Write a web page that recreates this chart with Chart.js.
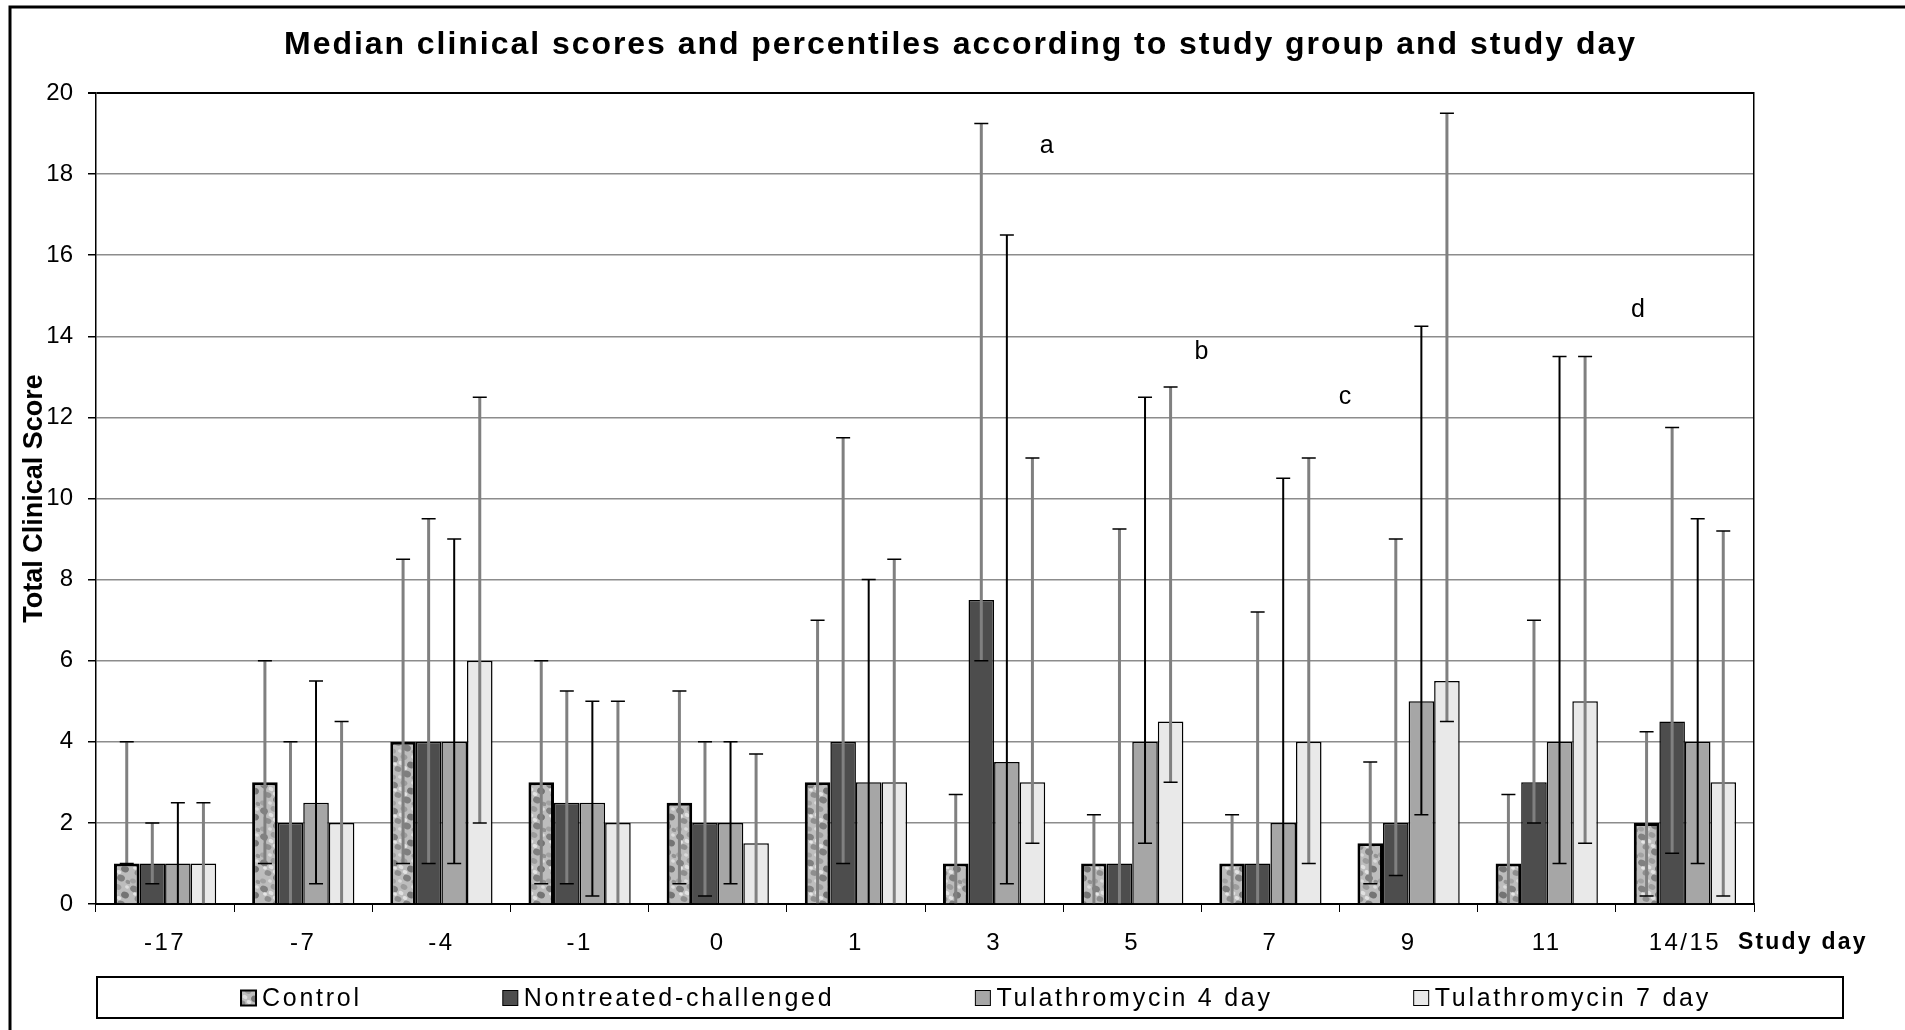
<!DOCTYPE html>
<html>
<head>
<meta charset="utf-8">
<script src="https://cdn.jsdelivr.net/npm/chart.js@4.4.1/dist/chart.umd.min.js"></script>
<style>
  html, body { margin: 0; padding: 0; background: #fff; }
  canvas { display: block; }
</style>
</head>
<body>
<canvas id="scores" width="1905" height="1030"></canvas>
<script>
(() => {
	'use strict'

	// Study days (x categories)
	const days = ['-17', '-7', '-4', '-1', '0', '1', '3', '5', '7', '9', '11', '14/15'];
	const seriesNames = ['Control', 'Nontreated-challenged', 'Tulathromycin 4 day', 'Tulathromycin 7 day'];

	// Medians and percentile whiskers
	const controlMedian = [1, 3, 4, 3, 2.5, 3, 1, 1, 1, 1.5, 1, 2];
	const controlLow    = [1, 1, 1, 0.5, 0.5, 0, 0, 0, 0, 0.5, 0, 0.2];
	const controlHigh   = [4, 6, 8.5, 6, 5.25, 7, 2.7, 2.2, 2.2, 3.5, 2.7, 4.25];

	const nontreatedMedian = [1, 2, 4, 2.5, 2, 4, 7.5, 1, 1, 2, 3, 4.5];
	const nontreatedLow    = [0.5, 0, 1, 0.5, 0.2, 1, 6, 0, 0, 0.7, 2, 1.25];
	const nontreatedHigh   = [2, 4, 9.5, 5.25, 4, 11.5, 19.25, 9.25, 7.2, 9, 7, 11.75];

	const tula4Median = [1, 2.5, 4, 2.5, 2, 3, 3.5, 4, 2, 5, 4, 4];
	const tula4Low    = [0, 0.5, 1, 0.2, 0.5, 0, 0.5, 1.5, 0, 2.2, 1, 1];
	const tula4High   = [2.5, 5.5, 9, 5, 4, 8, 16.5, 12.5, 10.5, 14.25, 13.5, 9.5];

	const tula7Median = [1, 2, 6, 2, 1.5, 3, 3, 4.5, 4, 5.5, 5, 3];
	const tula7Low    = [0, 0, 2, 0, 0, 0, 1.5, 3, 1, 4.5, 1.5, 0.2];
	const tula7High   = [2.5, 4.5, 12.5, 5, 3.7, 8.5, 11, 12.75, 11, 19.5, 13.5, 9.2];

	// Significance letters (position in category units / score units)
	const noteLabels = ['a', 'b', 'c', 'd'];
	const noteDay    = [6.38, 7.5, 8.54, 10.66];
	const noteScore  = [18.7, 13.6, 12.5, 14.65];

	const errLow  = [controlLow, nontreatedLow, tula4Low, tula7Low];
	const errHigh = [controlHigh, nontreatedHigh, tula4High, tula7High];
	const whiskerColors = ['#808080', '#808080', '#000000', '#808080'];
	const whiskerWidths = [3, 3, 2, 3];

	const titleText = 'Median clinical scores and percentiles according to study group and study day';

	const canvas = document.getElementById('scores');
	const ctx = canvas.getContext('2d');
	const FONT = '"Liberation Sans", Arial, sans-serif';

	// Mottled fill used for the Control bars
	function makeMottle() {
		const c = document.createElement('canvas');
		c.width = 26;
		c.height = 26;
		const g = c.getContext('2d');
		g.fillStyle = '#bdbdbd';
		g.fillRect(0, 0, 26, 26);
		const spots = [
			[4, 5, 4, '#808080'], [14, 3, 3.5, '#9c9c9c'], [21, 11, 4, '#747474'],
			[8, 15, 3.5, '#8e8e8e'], [17, 20, 4, '#7f7f7f'], [3, 23, 3, '#a2a2a2'],
			[11, 9, 2.5, '#e0e0e0'], [23, 3, 2, '#dcdcdc'], [5, 10, 2, '#e6e6e6'],
			[15, 14, 2.4, '#e2e2e2'], [24, 24, 2.5, '#939393'], [10, 23, 2, '#dadada']
		];
		spots.forEach(([x, y, r, col]) => {
			g.fillStyle = col;
			g.beginPath();
			g.ellipse(x, y, r, r * 0.8, 0.4, 0, Math.PI * 2);
			g.fill();
		});
		return ctx.createPattern(c, 'repeat');
	}
	const mottle = makeMottle();

	// letter spacing that makes text span a given width
	function fitSpacing(c, text, font, width) {
		c.save();
		c.font = font;
		c.letterSpacing = '0px';
		const w = c.measureText(text).width;
		c.restore();
		return Math.max(0, (width - w) / (text.length - 1)) + 'px';
	}

	// wraps a draw method so its text gets the given letter spacing
	function spaced(obj, method, spacing) {
		const orig = obj[method].bind(obj);
		obj[method] = function (...args) {
			const c = obj.ctx || obj.chart.ctx;
			const prev = c.letterSpacing;
			c.letterSpacing = spacing;
			const r = orig(...args);
			c.letterSpacing = prev;
			return r;
		};
	}

	// Whiskers drawn through the value scale
	const errorBars = {
		id: 'errorBars',
		afterDatasetsDraw(chart) {
			const c = chart.ctx;
			const y = chart.scales.y;
			chart.data.datasets.forEach((ds, d) => {
				chart.getDatasetMeta(d).data.forEach((bar, i) => {
					const top = y.getPixelForValue(errHigh[d][i]);
					const bot = y.getPixelForValue(errLow[d][i]);
					c.save();
					c.strokeStyle = whiskerColors[d];
					c.lineWidth = whiskerWidths[d];
					c.beginPath();
					c.moveTo(bar.x, top);
					c.lineTo(bar.x, bot);
					c.stroke();
					c.strokeStyle = '#000';
					c.lineWidth = 1.5;
					c.beginPath();
					c.moveTo(bar.x - 7, top);
					c.lineTo(bar.x + 7, top);
					c.moveTo(bar.x - 7, bot);
					c.lineTo(bar.x + 7, bot);
					c.stroke();
					c.restore();
				});
			});
		}
	};

	// Frame, letters, "Study day" and the boxed legend
	const decorations = {
		id: 'decorations',
		afterInit(chart) {
			spaced(chart.titleBlock, 'draw', fitSpacing(chart.ctx, titleText, 'bold 32px ' + FONT, 1351));
		},
		beforeDraw(chart) {
			const x = chart.scales.x;
			if (!x._spaced) {
				spaced(x, 'drawLabels', '2.5px');
				x._spaced = true;
			}
		},
		afterDraw(chart) {
			const c = chart.ctx;
			const {x, y} = chart.scales;
			c.save();

			// figure frame
			c.strokeStyle = '#000';
			c.lineWidth = 3;
			c.beginPath();
			c.moveTo(10, 1030);
			c.lineTo(10, 7);
			c.lineTo(1905, 7);
			c.stroke();

			// significance letters
			const step = x.getPixelForValue(1) - x.getPixelForValue(0);
			c.fillStyle = '#000';
			c.font = '25px ' + FONT;
			c.textAlign = 'center';
			c.textBaseline = 'middle';
			noteLabels.forEach((t, i) => {
				c.fillText(t, x.getPixelForValue(0) + noteDay[i] * step, y.getPixelForValue(noteScore[i]));
			});

			// axis caption next to the last day
			c.font = 'bold 23px ' + FONT;
			c.letterSpacing = '2.2px';
			c.textAlign = 'left';
			c.fillText('Study day', x.getPixelForValue(days.length - 1) + 53, 943);

			// legend box
			c.font = '25px ' + FONT;
			c.letterSpacing = '0px';
			const raw = c.measureText(seriesNames.join('')).width;
			const gaps = seriesNames.reduce((a, s) => a + s.length - 1, 0);
			c.letterSpacing = Math.max(0, (952 - raw) / gaps) + 'px';
			c.lineWidth = 2;
			c.strokeRect(97, 977, 1746, 41);
			const sw = 15, gapText = 6, gapItem = 141;
			const widths = chart.data.datasets.map(ds => sw + gapText + c.measureText(ds.label).width);
			const total = widths.reduce((a, b) => a + b, 0) + gapItem * (widths.length - 1);
			let lx = 976 - total / 2;
			const ly = 998;
			chart.data.datasets.forEach((ds, i) => {
				c.fillStyle = ds.backgroundColor;
				c.fillRect(lx, ly - sw / 2, sw, sw);
				c.strokeStyle = '#000';
				c.lineWidth = i === 0 ? 2 : 1;
				c.strokeRect(lx, ly - sw / 2, sw, sw);
				c.fillStyle = '#000';
				c.textAlign = 'left';
				c.fillText(ds.label, lx + sw + gapText, ly + 1);
				lx += widths[i] + gapItem;
			});
			c.restore();
		}
	};

	const dataScores = {
		labels: days,
		datasets: [
			{ label: seriesNames[0], data: controlMedian, backgroundColor: mottle, borderColor: '#000', borderWidth: 3 },
			{ label: seriesNames[1], data: nontreatedMedian, backgroundColor: '#4d4d4d', borderColor: '#000', borderWidth: 1.5 },
			{ label: seriesNames[2], data: tula4Median, backgroundColor: '#a6a6a6', borderColor: '#000', borderWidth: 1.5 },
			{ label: seriesNames[3], data: tula7Median, backgroundColor: '#e9e9e9', borderColor: '#000', borderWidth: 1.5 }
		]
	};

	const configScores = {
		type: 'bar',
		data: dataScores,
		options: {
			responsive: false,
			animation: false,
			categoryPercentage: 0.74,
			barPercentage: 1.0,
			layout: {
				padding: { top: 12, left: 16, right: 0, bottom: 0 }
			},
			scales: {
				x: {
					grid: { drawOnChartArea: false, drawTicks: true, tickLength: 8, color: '#000', offset: true },
					border: { color: '#000', width: 2 },
					ticks: { color: '#000', padding: 17, font: { family: FONT, size: 24 } },
					afterFit: (s) => { s.height = 126; }
				},
				y: {
					min: 0,
					max: 20,
					ticks: { stepSize: 2, color: '#000', padding: 15, font: { family: FONT, size: 24 } },
					grid: {
						color: (c) => c.tick && c.tick.value === 20 ? '#000' : '#8c8c8c',
						lineWidth: (c) => c.tick && c.tick.value === 20 ? 2 : 1.5,
						tickColor: '#000',
						tickLength: 8
					},
					border: { color: '#000', width: 1.5 },
					title: {
						display: true,
						text: 'Total Clinical Score',
						color: '#000',
						padding: { top: 2, bottom: 0 },
						font: { family: FONT, size: 27, weight: 'bold' }
					},
					afterFit: (s) => { s.width = 80; }
				},
				y2: {
					type: 'linear',
					position: 'right',
					grid: { display: false },
					ticks: { display: false },
					border: { display: true, color: '#000', width: 1.5 },
					afterFit: (s) => { s.width = 151; }
				}
			},
			plugins: {
				title: {
					display: true,
					text: titleText,
					color: '#000',
					padding: { top: 14, bottom: 28.6 },
					font: { family: FONT, size: 32, weight: 'bold' }
				},
				legend: { display: false },
				tooltip: { enabled: false }
			}
		},
		plugins: [errorBars, decorations]
	};

	const scoresChart = new Chart(canvas, configScores);
})()
</script>
</body>
</html>
